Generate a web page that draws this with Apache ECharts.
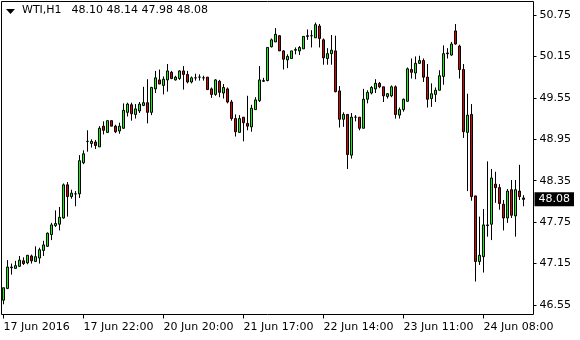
<!DOCTYPE html>
<html><head><meta charset="utf-8">
<script src="https://cdn.jsdelivr.net/npm/echarts@6/dist/echarts.min.js"></script>
<style>html,body{margin:0;padding:0;background:#fff}#c{width:580px;height:340px}</style>
</head><body><div id="c"></div>
<script>
const symbol = 'WTI';
const timeframe = 'H1';
const opens = [46.62,46.79,47.09,47.08,47.11,47.19,47.16,47.26,47.18,47.23,47.34,47.40,47.57,47.70,47.72,47.81,48.29,48.12,48.16,48.16,48.61,48.92,48.89,48.91,48.84,49.14,49.05,49.22,49.14,49.07,49.11,49.34,49.45,49.31,49.36,49.44,49.48,49.34,49.68,49.81,49.73,49.81,49.92,49.81,49.83,49.94,49.89,49.78,49.84,49.85,49.84,49.85,49.68,49.60,49.79,49.62,49.68,49.49,49.25,49.05,49.27,49.18,49.13,49.38,49.51,49.79,49.80,50.29,50.36,50.45,50.23,50.10,50.12,50.24,50.23,50.26,50.44,50.45,50.42,50.59,50.39,50.12,50.19,50.23,49.65,49.24,49.31,48.72,49.27,49.27,49.11,49.53,49.62,49.68,49.76,49.71,49.57,49.58,49.71,49.30,49.38,49.50,49.96,49.91,50.05,50.09,49.85,49.54,49.60,49.66,49.86,50.19,50.17,50.52,50.30,49.96,49.05,49.31,48.13,47.18,47.25,47.70,47.72,48.30,48.25,48.01,47.81,48.22,47.84,48.20,48.10];
const closes = [46.80,47.10,47.10,47.12,47.20,47.15,47.27,47.19,47.25,47.35,47.42,47.59,47.71,47.73,47.82,48.29,48.12,48.17,48.16,48.64,48.74,48.92,48.92,48.86,49.11,49.08,49.22,49.14,49.06,49.14,49.37,49.46,49.32,49.39,49.46,49.48,49.34,49.70,49.84,49.75,49.82,49.94,49.83,49.85,49.94,49.89,49.78,49.84,49.84,49.85,49.84,49.67,49.60,49.81,49.63,49.70,49.49,49.25,49.06,49.25,49.19,49.14,49.40,49.52,49.81,49.80,50.28,50.39,50.47,50.23,50.11,50.15,50.23,50.25,50.28,50.44,50.45,50.45,50.61,50.41,50.13,50.19,50.24,49.64,49.24,49.31,48.73,49.27,49.27,49.11,49.53,49.63,49.70,49.76,49.71,49.58,49.61,49.71,49.31,49.38,49.53,49.97,49.92,50.05,50.09,49.85,49.53,49.61,49.66,49.87,50.19,50.20,50.33,50.33,49.96,49.06,49.30,48.12,47.18,47.27,47.71,47.71,48.39,48.25,48.02,47.81,48.20,47.85,48.22,48.12,48.08];
const lows = [46.56,46.78,46.99,47.08,47.10,47.13,47.14,47.15,47.18,47.15,47.26,47.39,47.49,47.68,47.63,47.80,47.83,48.09,47.98,48.10,48.59,48.77,48.83,48.81,48.84,49.02,49.04,49.14,49.04,49.03,49.10,49.28,49.22,49.25,49.33,49.43,49.18,49.30,49.62,49.75,49.60,49.64,49.82,49.80,49.81,49.67,49.76,49.76,49.80,49.80,49.80,49.67,49.55,49.58,49.56,49.54,49.47,49.22,48.99,49.05,48.92,49.08,49.06,49.38,49.49,49.78,49.79,50.28,50.36,50.23,49.96,49.98,50.12,50.18,50.17,50.26,50.39,50.28,50.42,50.28,50.03,50.03,50.03,49.63,49.12,49.13,48.52,48.67,49.21,49.08,49.11,49.47,49.60,49.62,49.69,49.49,49.54,49.56,49.25,49.25,49.35,49.50,49.83,49.82,50.04,49.78,49.41,49.42,49.49,49.66,49.74,50.12,50.16,50.32,49.83,48.97,48.20,48.06,46.89,47.13,47.02,47.54,47.49,48.03,47.93,47.63,47.74,47.81,47.54,48.07,47.98];
const highs = [46.80,47.20,47.15,47.19,47.26,47.24,47.27,47.28,47.40,47.38,47.48,47.60,47.74,47.92,47.97,48.31,48.33,48.22,48.20,48.72,48.79,49.08,48.95,48.94,49.14,49.21,49.22,49.22,49.16,49.19,49.47,49.48,49.48,49.46,49.49,49.71,49.82,49.71,49.94,49.96,49.86,50.04,49.94,49.87,49.95,50.01,49.94,49.86,49.90,49.89,49.87,49.85,49.70,49.82,49.81,49.75,49.70,49.52,49.31,49.30,49.27,49.58,49.45,49.56,50.01,49.84,50.28,50.41,50.56,50.46,50.24,50.18,50.23,50.28,50.30,50.44,50.54,50.53,50.64,50.62,50.41,50.27,50.46,50.45,49.72,49.34,49.31,49.33,49.30,49.27,49.68,49.66,49.72,49.82,49.78,49.71,49.62,49.73,49.73,49.41,49.54,49.99,50.12,50.15,50.16,50.12,50.04,49.76,49.70,49.95,50.31,50.27,50.36,50.62,50.32,50.04,49.61,49.46,48.13,47.83,47.94,48.63,48.52,48.48,48.30,48.07,48.23,48.36,48.36,48.58,48.14];
const tickLabels = ['17 Jun 2016','17 Jun 22:00','20 Jun 20:00','21 Jun 17:00','22 Jun 14:00','23 Jun 11:00','24 Jun 08:00'];
const barsPerTick = 20;
const priceTicks = [46.55,47.15,47.75,48.35,48.95,49.55,50.15,50.75];
const emptyBarsRight = 2;

const n = opens.length;
const categories = [];
for (let i = 0; i < n + emptyBarsRight; i++) categories.push('b' + i);
const candles = opens.map((o, i) => [o, closes[i], lows[i], highs[i]]);
const last = n - 1;
const ohlcText = [opens[last], highs[last], lows[last], closes[last]].map(v => v.toFixed(2)).join(' ');
const FONT = 'DejaVu Sans';

const chart = echarts.init(document.getElementById('c'), null, {renderer: 'canvas'});
chart.setOption({
  animation: false,
  backgroundColor: '#fff',
  title: {
    left: 22, top: 5, padding: 0,
    text: '{n|' + symbol + ',' + timeframe + '}{v|' + ohlcText + '}',
    textStyle: {
      fontFamily: FONT, fontSize: 11, fontWeight: 'normal', color: '#000',
      rich: {
        n: {fontFamily: FONT, fontSize: 11, color: '#000'},
        v: {fontFamily: FONT, fontSize: 11, color: '#000', padding: [0, 0, 0, 10]}
      }
    }
  },
  graphic: [{
    type: 'polygon', shape: {points: [[6, 9], [15, 9], [10.5, 14]]},
    style: {fill: '#000'}
  }],
  grid: {left: 1.5, top: 1.5, width: 532, height: 313, show: true, borderColor: '#000', borderWidth: 1, backgroundColor: '#fff'},
  xAxis: {
    type: 'category', data: categories, boundaryGap: true,
    axisLine: {show: false},
    axisTick: {show: true, alignWithLabel: true, length: 4, interval: (i) => i % barsPerTick === 0 && i / barsPerTick < tickLabels.length, lineStyle: {color: '#000'}},
    axisLabel: {
      interval: (i) => i % barsPerTick === 0 && i / barsPerTick < tickLabels.length,
      formatter: (v, i) => tickLabels[i / barsPerTick] || '',
      align: 'left', margin: 7, fontFamily: FONT, fontSize: 11, color: '#000'
    },
    splitLine: {show: false}
  },
  yAxis: {
    type: 'value', position: 'right', scale: true,
    min: 46.4124, max: 50.9455,
    axisLine: {show: false},
    axisTick: {show: true, length: 3, customValues: priceTicks, lineStyle: {color: '#000'}},
    axisLabel: {customValues: priceTicks, formatter: v => v.toFixed(2), margin: 6, fontFamily: FONT, fontSize: 11, color: '#000'},
    splitLine: {show: false}
  },
  series: [{
    type: 'candlestick',
    data: candles,
    barWidth: 2,
    itemStyle: {color: '#00ff00', color0: '#e00000', borderColor: '#000', borderColor0: '#000', borderColorDoji: '#000', borderWidth: 1},
    markLine: {
      silent: true, symbol: 'none',
      lineStyle: {color: 'rgba(0,0,0,0)', width: 1, type: 'solid'},
      label: {
        show: true, position: 'end', distance: 1, formatter: closes[last].toFixed(2),
        backgroundColor: '#000', color: '#fff', padding: [2, 4, 1, 4],
        fontFamily: FONT, fontSize: 11
      },
      data: [{yAxis: closes[last]}]
    }
  }]
});
</script></body></html>
